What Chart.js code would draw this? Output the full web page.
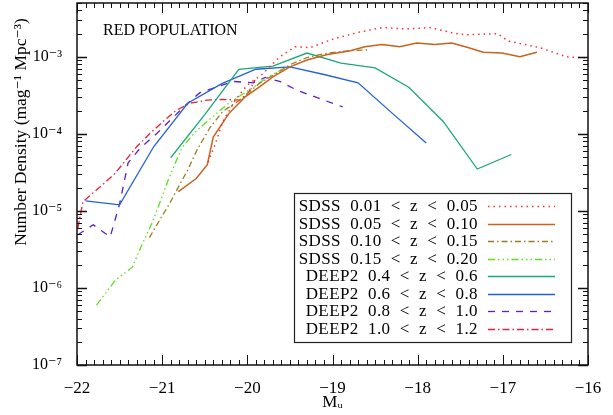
<!DOCTYPE html>
<html>
<head>
<meta charset="utf-8">
<script src="https://cdn.jsdelivr.net/npm/chart.js@4/dist/chart.umd.min.js"></script>
<style>
  html, body { margin: 0; padding: 0; background: #fff; }
  #wrap { width: 613px; height: 415px; }
</style>
</head>
<body>
<div id="wrap"><canvas id="lfChart"></canvas></div>
<script>
// absolute magnitude M_u and number density (mag^-1 Mpc^-3)
const sdssAM = [-20.46, -20.38, -20.29, -20.14, -20.00, -19.82, -19.62, -19.44, -19.26, -18.99, -18.68, -18.42, -18.13, -17.86, -17.59, -17.44, -17.06, -16.94, -16.56, -16.25, -16.00];
const sdssAN = [4.3e-5, 7.2e-5, 1.43e-4, 2.77e-4, 4.3e-4, 6.0e-4, 1.0e-3, 1.35e-3, 1.32e-3, 1.71e-3, 2.1e-3, 2.4e-3, 2.3e-3, 2.4e-3, 2.05e-3, 1.93e-3, 2.0e-3, 1.61e-3, 1.31e-3, 1.0e-3, 9.7e-4];

const sdssBM = [-20.81, -20.60, -20.47, -20.40, -20.22, -20.03, -19.87, -19.70, -19.50, -19.30, -19.06, -18.79, -18.62, -18.42, -18.21, -18.01, -17.80, -17.60, -17.41, -17.23, -17.01, -16.80, -16.60];
const sdssBN = [1.78e-5, 2.63e-5, 3.98e-5, 9.1e-5, 1.82e-4, 3.0e-4, 3.98e-4, 5.5e-4, 7.4e-4, 9.1e-4, 1.07e-3, 1.2e-3, 1.35e-3, 1.45e-3, 1.35e-3, 1.51e-3, 1.45e-3, 1.51e-3, 1.32e-3, 1.15e-3, 1.12e-3, 1.0e-3, 1.15e-3];

const sdssCM = [-21.15, -21.03, -20.91, -20.81, -20.70, -20.59, -20.44, -20.29, -20.09, -19.85, -19.65, -19.50, -19.30, -19.06, -18.79, -18.58];
const sdssCN = [4.5e-6, 7.6e-6, 1.26e-5, 2.04e-5, 3.4e-5, 6.2e-5, 1.2e-4, 1.95e-4, 2.75e-4, 4.6e-4, 6.2e-4, 7.9e-4, 9.8e-4, 1.12e-3, 1.2e-3, 1.23e-3];

const sdssDM = [-21.77, -21.55, -21.35, -21.25, -21.12, -21.03, -20.93, -20.83, -20.76, -20.59, -20.41, -20.24, -20.09, -19.93, -19.77, -19.60];
const sdssDN = [6.0e-7, 1.26e-6, 1.86e-6, 3.4e-6, 6.9e-6, 1.26e-5, 2.5e-5, 4.6e-5, 6.8e-5, 1.12e-4, 1.66e-4, 2.4e-4, 3.1e-4, 4.0e-4, 5.4e-4, 6.8e-4];

const deepAM = [-20.9, -20.5, -20.1, -19.7, -19.3, -18.9, -18.5, -18.1, -17.7, -17.3, -16.9];
const deepAN = [4.9e-5, 1.78e-4, 6.9e-4, 7.6e-4, 1.12e-3, 8.3e-4, 7.2e-4, 4.0e-4, 1.45e-4, 3.5e-5, 5.4e-5];

const deepBM = [-21.9, -21.5, -21.1, -20.7, -20.3, -19.9, -19.5, -19.1, -18.7, -18.3, -17.9];
const deepBN = [1.35e-5, 1.2e-5, 6.8e-5, 2.5e-4, 4.5e-4, 6.9e-4, 7.4e-4, 5.9e-4, 4.6e-4, 1.86e-4, 7.6e-5];

const deepCM = [-21.99, -21.81, -21.61, -21.50, -21.40, -21.26, -21.06, -20.71, -20.56, -20.17, -19.93, -19.79, -19.62, -19.42, -19.18, -18.88];
const deepCN = [4.9e-6, 6.6e-6, 4.6e-6, 1.23e-5, 4.2e-5, 6.5e-5, 1.02e-4, 2.45e-4, 3.4e-4, 4.8e-4, 4.6e-4, 5.4e-4, 4.8e-4, 3.7e-4, 2.95e-4, 2.24e-4];

const deepDM = [-21.99, -21.93, -21.73, -21.55, -21.30, -21.14, -20.97, -20.83, -20.67, -20.47, -20.30, -20.09, -19.99, -19.91];
const deepDN = [6.0e-6, 1.32e-5, 2.04e-5, 3.1e-5, 6.8e-5, 1.02e-4, 1.51e-4, 2.04e-4, 2.5e-4, 2.75e-4, 2.8e-4, 2.75e-4, 3.4e-4, 5.0e-4];

const seriesLabels = [
    'SDSS 0.01 < z < 0.05',
    'SDSS 0.05 < z < 0.10',
    'SDSS 0.10 < z < 0.15',
    'SDSS 0.15 < z < 0.20',
    'DEEP2 0.4 < z < 0.6',
    'DEEP2 0.6 < z < 0.8',
    'DEEP2 0.8 < z < 1.0',
    'DEEP2 1.0 < z < 1.2'
];

const xTicks = [-22, -21, -20, -19, -18, -17, -16];
const yTicks = [1e-7, 1e-6, 1e-5, 1e-4, 1e-3];

const styles = [
    { color: '#ff2a2a', dash: [1.5, 4], width: 1.5 },
    { color: '#c8621e', dash: [], width: 1.5 },
    { color: '#9a7d1c', dash: [6, 3, 1.5, 3], width: 1.3 },
    { color: '#5ee01a', dash: [7, 3, 1.5, 3, 1.5, 3, 1.5, 3], width: 1.3 },
    { color: '#1aa878', dash: [], width: 1.3 },
    { color: '#2462d4', dash: [], width: 1.3 },
    { color: '#5a1ed8', dash: [7, 7], width: 1.3 },
    { color: '#e8203c', dash: [7, 3, 1.5, 3], width: 1.3 }
];

const mags = [sdssAM, sdssBM, sdssCM, sdssDM, deepAM, deepBM, deepCM, deepDM];
const dens = [sdssAN, sdssBN, sdssCN, sdssDN, deepAN, deepBN, deepCN, deepDN];

const serif = 'Liberation Serif, DejaVu Serif, serif';
const sup = { '-': '⁻', '0': '⁰', '1': '¹', '2': '²', '3': '³', '4': '⁴', '5': '⁵', '6': '⁶', '7': '⁷', '8': '⁸', '9': '⁹' };

function powLabel(v) {
    const e = String(Math.round(Math.log10(v)));
    return '10' + e.split('').map(c => sup[c]).join('');
}

// frame, inward ticks, y title, panel title and the legend box
const decorations = {
    id: 'decorations',
    afterDatasetsDraw(chart) {
        const ctx = chart.ctx;
        const a = chart.chartArea;
        const sx = chart.scales.x;
        const sy = chart.scales.y;

        ctx.save();
        ctx.strokeStyle = '#111';
        ctx.lineWidth = 1;
        ctx.setLineDash([]);

        // x ticks every 0.1 mag
        for (let k = 0; k <= 60; k++) {
            const px = Math.round(sx.getPixelForValue(-22 + k * 0.1)) + 0.5;
            const len = k % 10 === 0 ? 10 : 5;
            ctx.beginPath();
            ctx.moveTo(px, a.bottom); ctx.lineTo(px, a.bottom - len);
            ctx.moveTo(px, a.top); ctx.lineTo(px, a.top + len);
            ctx.stroke();
        }
        // y ticks, log
        for (let d = -7; d <= -3; d++) {
            for (let m = 1; m <= 9; m++) {
                const v = m * Math.pow(10, d);
                if (v > sy.max) continue;
                const py = Math.round(sy.getPixelForValue(v)) + 0.5;
                const len = m === 1 ? 10 : 5;
                ctx.lineWidth = m === 1 ? 1.6 : 1;
                ctx.beginPath();
                ctx.moveTo(a.left, py); ctx.lineTo(a.left + len, py);
                ctx.moveTo(a.right, py); ctx.lineTo(a.right - len, py);
                ctx.stroke();
            }
        }

        ctx.lineWidth = 1.5;
        ctx.strokeRect(a.left, a.top, a.right - a.left, a.bottom - a.top);

        ctx.fillStyle = '#000';

        // y axis title
        ctx.save();
        ctx.translate(21, 132);
        ctx.rotate(-Math.PI / 2);
        ctx.font = '17.5px ' + serif;
        ctx.textAlign = 'center';
        ctx.textBaseline = 'middle';
        ctx.fillText('Number Density (mag\u207B\u00B9 Mpc\u207B\u00B3)', 0, 0);
        ctx.restore();

        // panel title
        ctx.font = '16px ' + serif;
        ctx.textAlign = 'left';
        ctx.textBaseline = 'alphabetic';
        ctx.fillText('RED POPULATION', 103, 35);

        // legend
        const bx = 294.5, by = 193.5, bw = 277, bh = 149;
        ctx.fillStyle = '#fff';
        ctx.fillRect(bx, by, bw, bh);
        ctx.strokeStyle = '#222';
        ctx.lineWidth = 1.2;
        ctx.strokeRect(bx, by, bw, bh);

        ctx.font = '17px ' + serif;
        ctx.textAlign = 'right';
        ctx.textBaseline = 'middle';
        if ('letterSpacing' in ctx) ctx.letterSpacing = '0.4px';
        chart.data.datasets.forEach((ds, i) => {
            const yy = 206 + i * 17.5;
            ctx.fillStyle = '#000';
            ctx.fillText(ds.label.replace(/ /g, '  '), 478, yy + 1);
            ctx.strokeStyle = ds.borderColor;
            ctx.lineWidth = ds.borderWidth;
            ctx.setLineDash(ds.borderDash);
            ctx.beginPath();
            ctx.moveTo(488, Math.round(yy) + 0.5);
            ctx.lineTo(555, Math.round(yy) + 0.5);
            ctx.stroke();
        });
        ctx.restore();
    }
};

const datasets = seriesLabels.map((label, i) => ({
    label: label,
    data: mags[i].map((m, j) => ({ x: m, y: dens[i][j] })),
    borderColor: styles[i].color,
    borderDash: styles[i].dash,
    borderWidth: styles[i].width,
    pointRadius: 0,
    fill: false,
    tension: 0
}));

new Chart(document.getElementById('lfChart'), {
    type: 'line',
    data: { datasets: datasets },
    options: {
        responsive: true,
        maintainAspectRatio: false,
        animation: false,
        devicePixelRatio: 1,
        layout: { padding: { top: 3, right: 25, left: 0, bottom: 0 } },
        plugins: { legend: { display: false }, tooltip: { enabled: false } },
        scales: {
            x: {
                type: 'linear',
                min: -22,
                max: -16,
                afterBuildTicks: s => { s.ticks = xTicks.map(v => ({ value: v })); },
                afterFit: s => { s.height = 50; s.paddingLeft = 0; s.paddingRight = 0; },
                grid: { display: false },
                border: { display: false },
                ticks: {
                    color: '#000',
                    padding: 5,
                    maxRotation: 0,
                    font: { family: serif, size: 17 },
                    callback: v => (v < 0 ? '\u2212' : '') + Math.abs(v)
                },
                title: {
                    display: true,
                    text: 'M\u1D64',
                    color: '#000',
                    font: { family: serif, size: 17 },
                    padding: { top: 0, bottom: 2 }
                }
            },
            y: {
                type: 'logarithmic',
                min: 1e-7,
                max: 5.0e-3,
                afterBuildTicks: s => { s.ticks = yTicks.map(v => ({ value: v })); },
                afterFit: s => { s.width = 77; s.paddingTop = 0; s.paddingBottom = 0; },
                grid: { display: false },
                border: { display: false },
                ticks: {
                    color: '#000',
                    padding: 7,
                    font: { family: serif, size: 16 },
                    callback: v => powLabel(v)
                },
                title: { display: false }
            }
        }
    },
    plugins: [decorations]
});
</script>
</body>
</html>
